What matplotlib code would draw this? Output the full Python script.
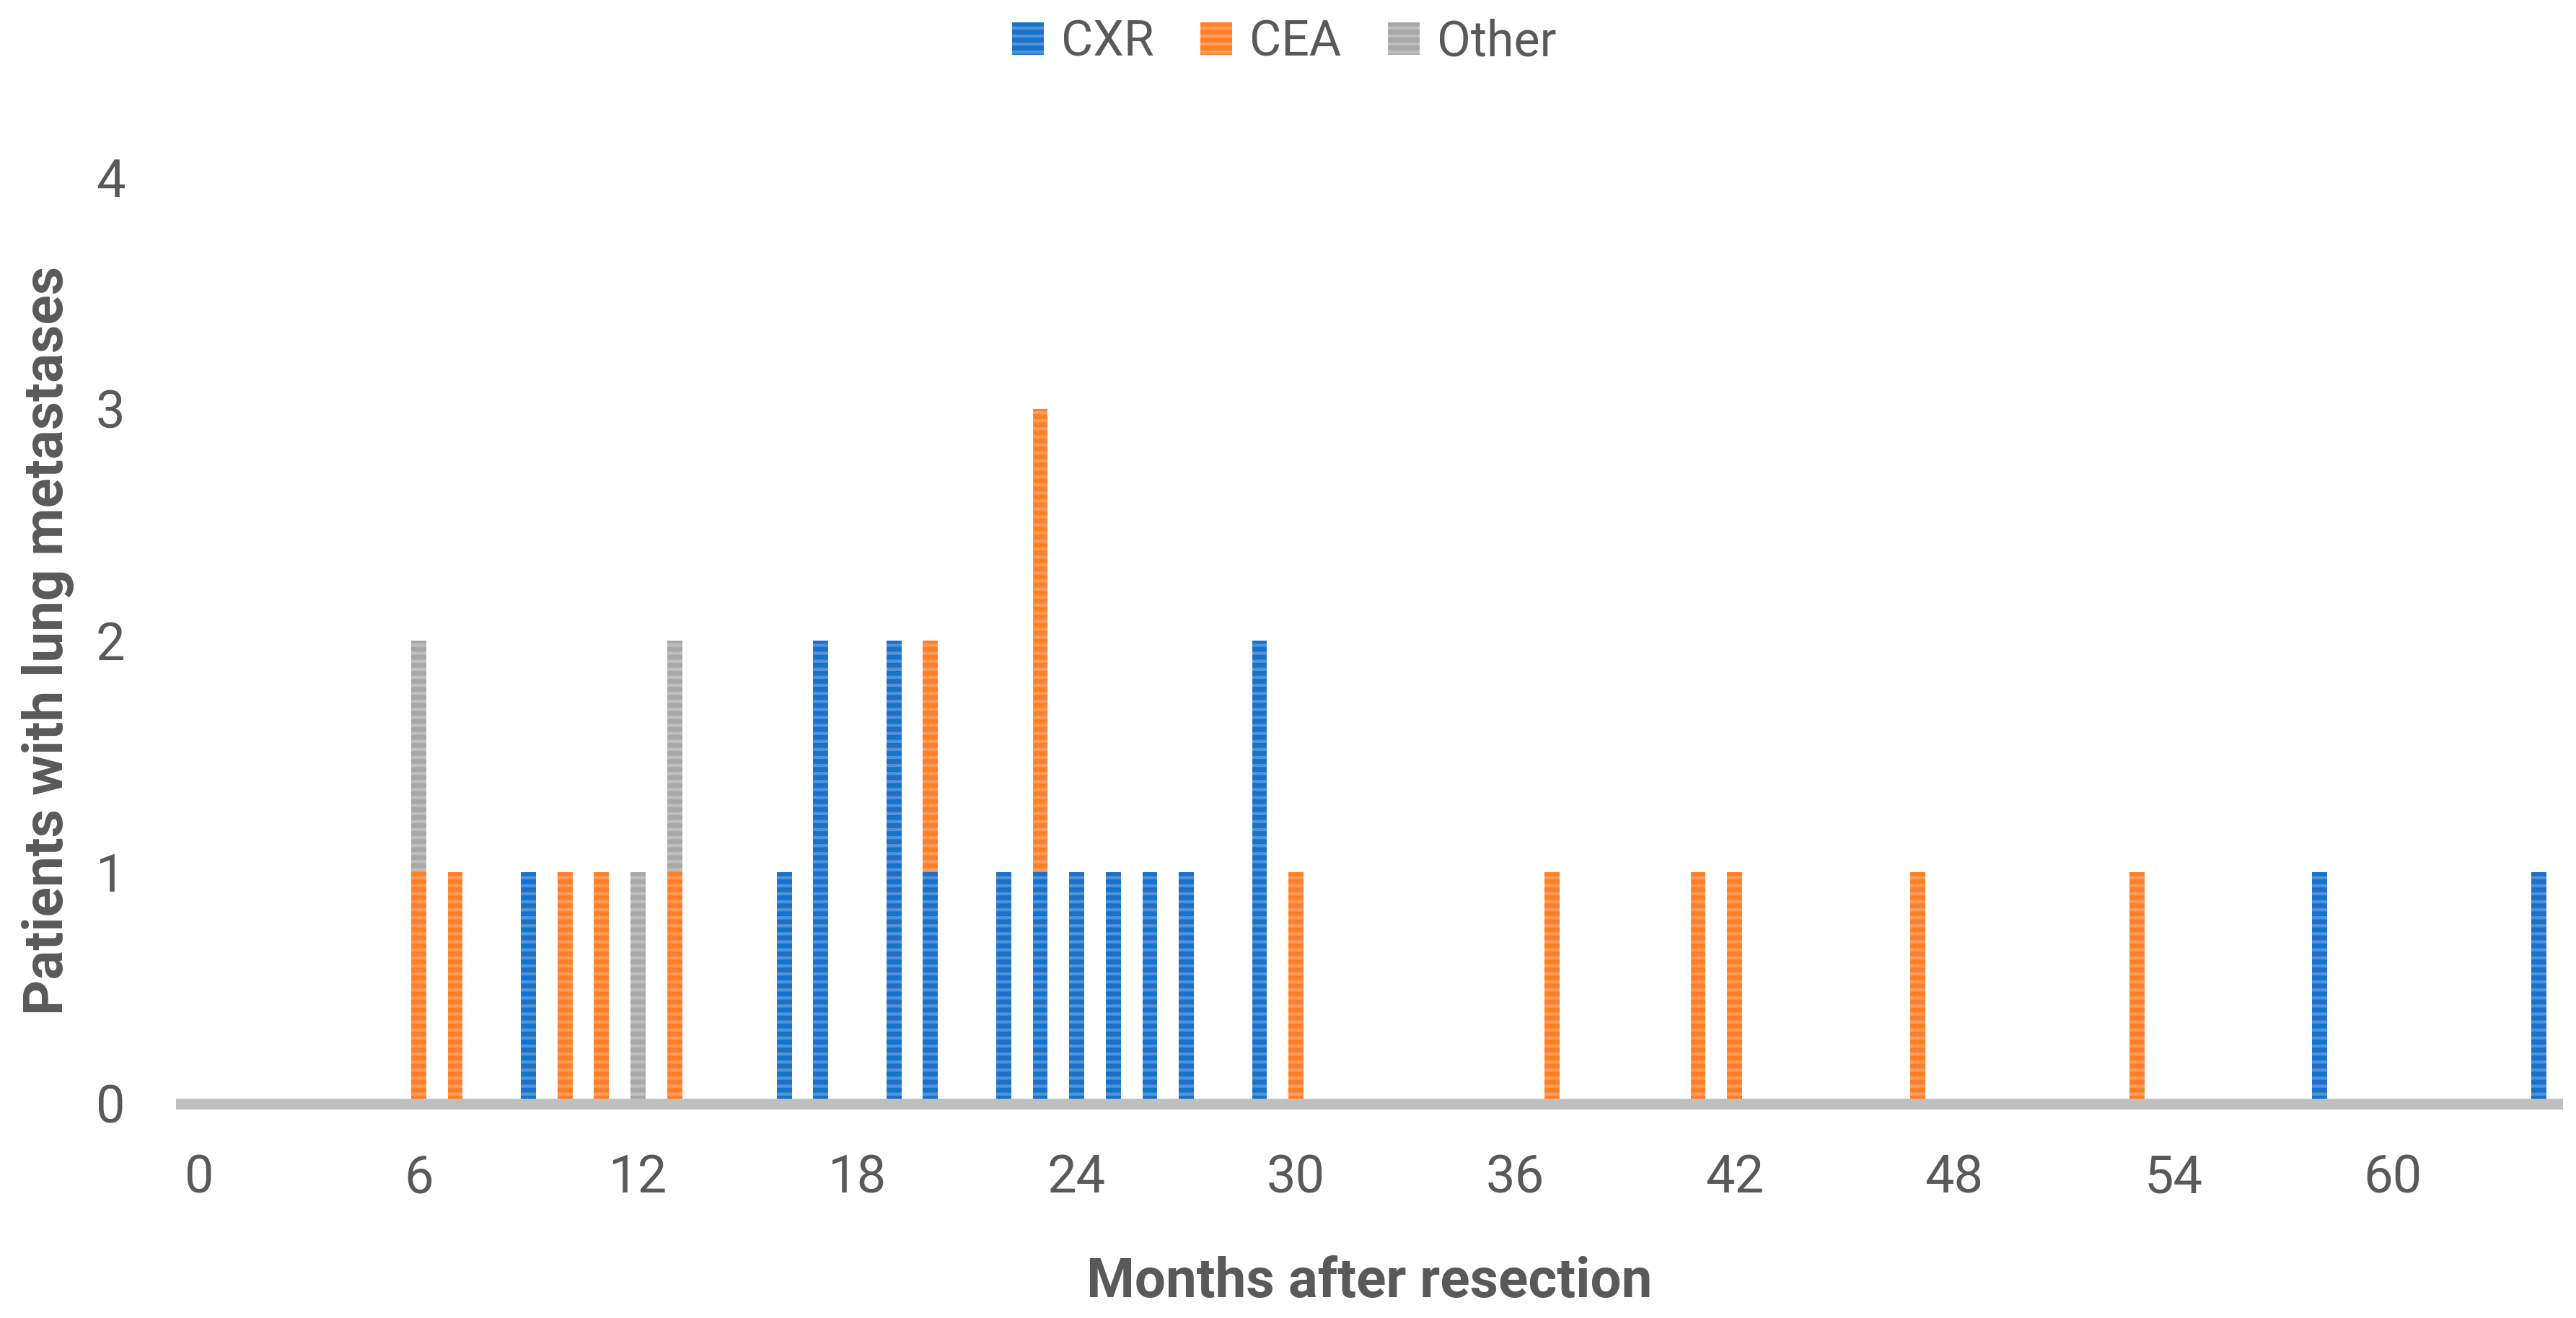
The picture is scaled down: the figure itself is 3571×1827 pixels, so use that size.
import numpy as np
import matplotlib
matplotlib.use("Agg")
import matplotlib.pyplot as plt
from matplotlib import font_manager

# ---- data ----
months = list(range(0, 65))
tick_months = list(range(0, 61, 6))
series_names = ["CXR", "CEA", "Other"]

cxr_months = [9, 16, 17, 19, 20, 22, 23, 24, 25, 26, 27, 29, 58, 64]
cxr_counts = [1, 1, 2, 2, 1, 1, 1, 1, 1, 1, 1, 2, 1, 1]

cea_months = [6, 7, 10, 11, 13, 20, 23, 30, 37, 41, 42, 47, 53]
cea_counts = [1, 1, 1, 1, 1, 1, 2, 1, 1, 1, 1, 1, 1]

other_months = [6, 12, 13]
other_counts = [1, 1, 1]

y_ticks = [0, 1, 2, 3, 4]


def dense(ms, cs):
    arr = np.zeros(len(months))
    for m, c in zip(ms, cs):
        arr[months.index(m)] = c
    return arr


cxr = dense(cxr_months, cxr_counts)
cea = dense(cea_months, cea_counts)
other = dense(other_months, other_counts)

# ---- fonts ----
avail = {f.name for f in font_manager.fontManager.ttflist}
FONT = "DejaVu Sans"
for cand in ["Liberation Sans Narrow", "Roboto", "Open Sans", "DejaVu Sans"]:
    if cand in avail:
        FONT = cand
        break
plt.rcParams["font.family"] = [FONT, "DejaVu Sans"]
plt.rcParams["hatch.linewidth"] = 1.6

TEXT = "#595959"
fills = {"CXR": "#1872CA", "CEA": "#FF7F27", "Other": "#A8A8A8"}
stripes = {"CXR": "#5191D8", "CEA": "#FF9C5C", "Other": "#BEBEBE"}

fig = plt.figure(figsize=(17.855, 9.135), dpi=200)
ax = fig.add_axes([0.0703, 0.1626, 0.9224, 0.7028])

x = np.arange(len(months))
w = 0.41
bottom = np.zeros(len(months))
handles = []
for name, vals in zip(series_names, [cxr, cea, other]):
    mask = vals > 0
    b = ax.bar(x[mask], vals[mask], w, bottom=bottom[mask],
               color=fills[name], edgecolor=stripes[name], linewidth=0,
               hatch="---", label=name, zorder=2)
    handles.append(b)
    bottom = bottom + vals

ax.set_xlim(-0.5, len(months) - 0.5)
ax.set_ylim(0, 4)
ax.set_xticks([months.index(m) for m in tick_months])
ax.set_xticklabels([str(m) for m in tick_months])
ax.set_yticks(y_ticks)
ax.set_yticklabels([str(v) for v in y_ticks])

for s in ["top", "right", "left"]:
    ax.spines[s].set_visible(False)
ax.spines["bottom"].set_color("#BFBFBF")
ax.spines["bottom"].set_linewidth(5.4)
ax.spines["bottom"].set_zorder(3)

ax.tick_params(axis="both", length=0, labelsize=26, colors=TEXT)
ax.tick_params(axis="x", pad=25)
ax.tick_params(axis="y", pad=28)

ax.set_xlabel("Months after resection", fontsize=27.5, fontweight="bold",
              color=TEXT)
ax.set_ylabel("Patients with lung metastases", fontsize=27.5, fontweight="bold",
              color=TEXT)
ax.xaxis.set_label_coords(0.5, -0.164)
ax.yaxis.set_label_coords(-0.045, 0.5)

leg = fig.legend(handles=handles, labels=series_names, loc="center",
                 bbox_to_anchor=(0.4985, 0.968), ncol=3, frameon=False,
                 fontsize=24.5, handlelength=0.65, handleheight=0.65,
                 handletextpad=0.35, columnspacing=0.95, labelcolor=TEXT)

fig.savefig("out.png", dpi=200, facecolor="white")
